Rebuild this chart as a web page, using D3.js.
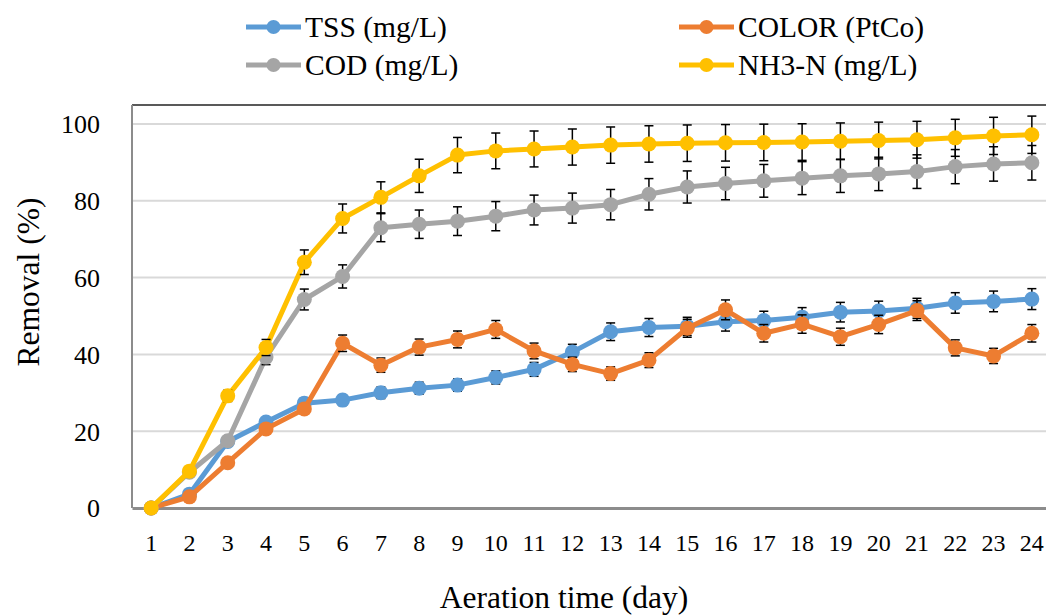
<!DOCTYPE html>
<html>
<head>
<meta charset="utf-8">
<script src="https://cdn.jsdelivr.net/npm/d3@7"></script>
<style>
  body { margin: 0; background: #fff; }
  svg text { font-family: "Liberation Serif", "Times New Roman", serif; fill: #000; }
</style>
</head>
<body>
<div id="chart"></div>
<script>
// aeration days (category axis)
const days = d3.range(1, 25).map(String);

// removal efficiency (%)
const tss = [0, 3.6, 17.3, 22.4, 27.3, 28.1, 30, 31.2, 32, 34, 36.1, 40.6, 45.9, 47, 47.3, 48.5, 48.8, 49.7, 51, 51.3, 52, 53.4, 53.8, 54.4];
const color = [0, 2.9, 11.8, 20.6, 25.8, 42.9, 37.2, 41.9, 43.9, 46.5, 40.9, 37.4, 35, 38.5, 46.8, 51.6, 45.5, 47.9, 44.6, 47.8, 51.4, 41.7, 39.6, 45.5];
const cod = [0, 9.3, 17.5, 39.3, 54.3, 60.3, 73, 73.9, 74.7, 76, 77.6, 78.1, 79, 81.7, 83.6, 84.5, 85.2, 85.9, 86.5, 87, 87.6, 88.9, 89.6, 89.9];
const nh3 = [0, 9.6, 29.2, 41.8, 64, 75.4, 80.9, 86.5, 91.9, 93, 93.5, 94, 94.5, 94.8, 95, 95.1, 95.2, 95.3, 95.5, 95.7, 95.9, 96.4, 96.9, 97.2];

// error bars in the source are a fixed percentage of each value
const errorPercent = 5;

const yTicks = [0, 20, 40, 60, 80, 100];

const series = [
  { name: "TSS (mg/L)", values: tss, stroke: "#5B9BD5" },
  { name: "COLOR (PtCo)", values: color, stroke: "#ED7D31" },
  { name: "COD (mg/L)", values: cod, stroke: "#A5A5A5" },
  { name: "NH3-N (mg/L)", values: nh3, stroke: "#FFC000" }
];

const W = 1046, H = 615;
const plot = { left: 132, right: 1051, top: 105, bottom: 508 };

const svg = d3.select("#chart").append("svg")
  .attr("width", W)
  .attr("height", H);

const x = d3.scaleBand()
  .domain(days)
  .range([plot.left, plot.right]);

const y = d3.scaleLinear()
  .domain([0, 100])
  .range([plot.bottom, plot.top + 19]);

const cx = i => x(days[i]) + x.bandwidth() / 2;

// gridlines
svg.append("g")
  .selectAll("line")
  .data(yTicks.filter(d => d > 0))
  .join("line")
  .attr("x1", plot.left)
  .attr("x2", plot.right)
  .attr("y1", d => y(d))
  .attr("y2", d => y(d))
  .attr("stroke", "#D9D9D9")
  .attr("stroke-width", 2);

// plot frame: top and left
svg.append("line")
  .attr("x1", plot.left).attr("x2", plot.right)
  .attr("y1", plot.top).attr("y2", plot.top)
  .attr("stroke", "#595959").attr("stroke-width", 2);
svg.append("line")
  .attr("x1", plot.left).attr("x2", plot.left)
  .attr("y1", plot.top).attr("y2", plot.bottom)
  .attr("stroke", "#8C8C8C").attr("stroke-width", 2);

// y axis
const yAxis = svg.append("g")
  .attr("transform", `translate(${plot.left},0)`)
  .call(d3.axisLeft(y).tickValues(yTicks).tickSize(0).tickPadding(32));
yAxis.select(".domain").remove();
yAxis.selectAll("text")
  .style("font-size", "26px")
  .attr("dy", "0.34em");

// x axis
const xAxis = svg.append("g")
  .attr("transform", `translate(0,${plot.bottom})`)
  .call(d3.axisBottom(x).tickSize(0).tickPadding(26));
xAxis.select(".domain")
  .attr("stroke", "#8C8C8C")
  .attr("stroke-width", 3);
xAxis.selectAll("text")
  .style("font-size", "24px")
  .attr("dy", "0.71em");

// axis titles
svg.append("text")
  .attr("x", 564)
  .attr("y", 608)
  .attr("text-anchor", "middle")
  .style("font-size", "31.5px")
  .text("Aeration time (day)");

svg.append("text")
  .attr("transform", "translate(39,282) rotate(-90)")
  .attr("text-anchor", "middle")
  .style("font-size", "31.5px")
  .text("Removal (%)");

const line = d3.line()
  .x((d, i) => cx(i))
  .y(d => y(d));

series.forEach(s => {
  const g = svg.append("g");
  g.append("path")
    .datum(s.values)
    .attr("d", line)
    .attr("fill", "none")
    .attr("stroke", s.stroke)
    .attr("stroke-width", 5)
    .attr("stroke-linejoin", "round");

  // error bars sit under the markers
  const pts = s.values.map((v, i) => ({ v, i })).filter(d => d.v > 0);
  const err = g.append("g")
    .attr("stroke", "#000")
    .attr("stroke-width", 1.5)
    .selectAll("g")
    .data(pts)
    .join("g")
    .attr("transform", d => `translate(${cx(d.i)},0)`);

  const hi = d => y(d.v * (1 + errorPercent / 100));
  const lo = d => y(d.v * (1 - errorPercent / 100));
  err.append("line").attr("y1", hi).attr("y2", lo);
  err.append("line").attr("x1", -4.5).attr("x2", 4.5).attr("y1", hi).attr("y2", hi);
  err.append("line").attr("x1", -4.5).attr("x2", 4.5).attr("y1", lo).attr("y2", lo);

  g.append("g").selectAll("circle")
    .data(s.values)
    .join("circle")
    .attr("cx", (d, i) => cx(i))
    .attr("cy", d => y(d))
    .attr("r", 7.5)
    .attr("fill", s.stroke);
});

// legend, two columns
const legendPos = [[246, 27], [679, 27], [246, 65], [679, 65]];
const legend = svg.append("g")
  .selectAll("g")
  .data(series)
  .join("g")
  .attr("transform", (d, i) => `translate(${legendPos[i][0]},${legendPos[i][1]})`);

legend.append("line")
  .attr("x1", 0).attr("x2", 55)
  .attr("stroke", d => d.stroke)
  .attr("stroke-width", 5);
legend.append("circle")
  .attr("cx", 27.5)
  .attr("r", 7)
  .attr("fill", d => d.stroke);
legend.append("text")
  .attr("x", 59)
  .attr("dy", "0.35em")
  .style("font-size", "29.5px")
  .text(d => d.name);
</script>
</body>
</html>
